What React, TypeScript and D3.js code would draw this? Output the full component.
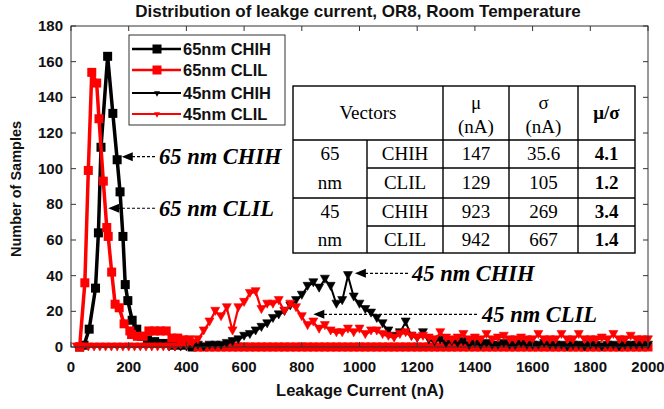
import React from 'react';
import * as d3 from 'd3';

const W = 664;
const H = 409;

const xTicks = [0, 200, 400, 600, 800, 1000, 1200, 1400, 1600, 1800, 2000];
const yTicks = [0, 20, 40, 60, 80, 100, 120, 140, 160, 180];

const seriesNames = ['65nm CHIH', '65nm CLIL', '45nm CHIH', '45nm CLIL'];

// 65 nm CHIH (black squares)
const x65chih = [30, 45, 63, 85, 95, 104, 127, 145, 160, 170, 180, 188, 197, 212, 228, 245, 265, 290, 320, 350, 380, 420];
const y65chih = [0, 1, 10, 33, 64, 112, 163, 131, 105, 87, 62, 35, 26, 15, 10, 6, 4, 3, 2, 1, 1, 0];

// 45 nm bins
const bins = [20, 40, 60, 80, 100, 120, 140, 160, 180, 200, 220, 240, 260, 280, 300, 320, 340, 360, 380, 400,
  420, 440, 460, 480, 500, 520, 540, 560, 580, 600, 620, 640, 660, 680, 700, 720, 740, 760, 780, 800,
  820, 840, 860, 880, 900, 920, 940, 960, 980, 1000, 1020, 1040, 1060, 1080, 1100, 1120, 1140, 1160, 1180, 1200,
  1220, 1240, 1260, 1280, 1300, 1320, 1340, 1360, 1380, 1400, 1420, 1440, 1460, 1480, 1500, 1520, 1540, 1560, 1580, 1600,
  1620, 1640, 1660, 1680, 1700, 1720, 1740, 1760, 1780, 1800, 1820, 1840, 1860, 1880, 1900, 1920, 1940, 1960, 1980, 2000];

// 65 nm CLIL (red squares)
const x65clilHead = [30, 48, 60, 72, 89, 97, 112, 124, 129, 141, 153, 167, 184, 204, 210, 230, 250, 270, 290, 310, 330, 350, 370, 390, 410, 430];
const y65clilHead = [0, 36, 99, 154, 148, 128, 93, 67, 62, 42, 24, 22, 13, 9, 7, 6, 6, 9, 9, 9, 9, 5, 5, 4, 4, 2];
const y65clilTail = [0, 0, 0, 0, 0, 0, 0, 0, 0, 0, 0, 0, 0, 0, 0, 0, 0, 0, 0, 0,
  0, 0, 0, 0, 0, 0, 0, 0, 0, 0, 0, 0, 0, 0, 0, 0, 0, 0, 0, 0,
  0, 0, 0, 0, 0, 0, 0, 0, 0, 0, 0, 0, 0, 0, 0, 0, 0, 0, 0, 0,
  0, 0, 0, 0, 0, 0, 0, 0, 0, 0, 0, 0, 0, 0, 0, 0, 0, 0, 0];

// 45 nm CHIH (black triangles), null = no sample
const chih45 = [null, null, null, null, null, null, null, null, null, null,
  null, null, null, null, null, null, 0, 0, 0, 0,
  0, 1, 0, 1, 1, 1, 2, 3, 4, 6,
  7, 9, 11, 13, 16, 18, 20, 23, 26, 29,
  34, 36, 33, 38, 34, 24, 26, 40, 28, 24,
  21, 19, 16, 13, 9, 6, 8, 14, 6, 5,
  8, 4, 3, 4, 2, 3, 2, 3, 1, 2,
  1, 2, 1, 1, 2, 1, 1, 2, 1, 1,
  1, 2, 1, 1, 1, 0, 1, 1, 0, 1,
  1, 0, 1, 1, 0, 1, 1, 1, 1, 1];

// 45 nm CLIL (red triangles)
const clil45 = [0, 0, 0, 0, 0, 0, 0, 0, 0, 0,
  0, 0, 0, 0, 0, 0, 0, 0, 1, 1,
  2, 4, 9, 14, 20, 17, 22, 9, 22, 25,
  30, 31, 21, 24, 24, 26, 20, 24, 22, 17,
  12, 14, 10, 12, 9, 8, 8, 10, 8, 10,
  7, 9, 9, 7, 6, 5, 7, 8, 6, 5,
  6, 5, 4, 8, 5, 4, 5, 7, 4, 5,
  4, 7, 4, 5, 6, 4, 4, 5, 4, 4,
  7, 4, 4, 4, 7, 4, 4, 7, 4, 4,
  4, 5, 4, 7, 4, 4, 6, 4, 4, 4];

// annotations
const annLabels = ['65 nm CHIH', '65 nm CLIL', '45 nm CHIH', '45 nm CLIL'];
const annTipX = [176, 129, 984, 840];
const annTipY = [106.7, 77.8, 41.3, 18.3];

// table
const tableHeader = ['Vectors', 'μ', 'σ', 'μ/σ'];
const tableNodes = ['65', '65', '45', '45'];
const tableVectors = ['CHIH', 'CLIL', 'CHIH', 'CLIL'];
const tableMu = ['147', '129', '923', '942'];
const tableSigma = ['35.6', '105', '269', '667'];
const tableRatio = ['4.1', '1.2', '3.4', '1.4'];

const SANS = '"Liberation Sans", Arial, Helvetica, sans-serif';
const SERIF = '"Liberation Serif", "Times New Roman", serif';
const RED = '#ff0000';

function triDown(s: number) {
  const h = s * 0.9;
  return `M${-s / 2},${-h / 2}L${s / 2},${-h / 2}L0,${h / 2}Z`;
}

export default function App() {
  const L = 71, R = 648, T = 26, B = 347;
  const x = d3.scaleLinear().domain([0, 2000]).range([L, R]);
  const y = d3.scaleLinear().domain([0, 180]).range([B, T]);
  const line = d3.line<[number, number]>().x(d => x(d[0])).y(d => y(d[1]));

  const s65chih: [number, number][] = x65chih.map((v, i) => [v, y65chih[i]]);
  const tailX = bins.slice(21);
  const s65clil: [number, number][] = x65clilHead.map((v, i) => [v, y65clilHead[i]] as [number, number])
    .concat(tailX.map((v, i) => [v, y65clilTail[i]] as [number, number]));
  const s45chih: [number, number][] = bins.map((v, i) => [v, chih45[i]] as [number, any]).filter(d => d[1] !== null);
  const s45clil: [number, number][] = bins.map((v, i) => [v, clil45[i]] as [number, number]);

  const sq = 9;
  const tri = 9;

  const squares = (data: [number, number][], color: string, key: string) =>
    data.map((d, i) => (
      <rect key={key + i} x={x(d[0]) - sq / 2} y={y(d[1]) - sq / 2} width={sq} height={sq} fill={color} />
    ));
  const tris = (data: [number, number][], color: string, key: string) =>
    data.map((d, i) => (
      <path key={key + i} d={triDown(tri)} transform={`translate(${x(d[0])},${y(d[1])})`} fill={color} stroke={color} strokeWidth={0.6} />
    ));

  // table layout
  const tL = 293, tR = 635;
  const colX = [293, 367, 443, 509, 578, 635];
  const rowY = [86, 140, 168, 198, 226, 253];
  const tableFont = 19;

  // legend layout
  const lgX = 129, lgY = 35, lgW = 156, lgH = 90;
  const lgRows = [49, 70, 93, 114];

  const annTextX = [159, 159, 412, 482];
  const annTailX = [155, 155, 408, 477];

  return (
    <svg width={W} height={H} style={{ position: 'absolute', left: 0, top: 0, background: '#fff' }}>
      <rect x={0} y={0} width={W} height={H} fill="#fff" />
      {/* title */}
      <text x={358} y={17} textAnchor="middle" fontFamily={SANS} fontWeight="bold" fontSize={17} fill="#111">
        Distribution of leakge current, OR8, Room Temperature
      </text>

      {/* series */}
      <path d={line(s65chih) || ''} fill="none" stroke="#000" strokeWidth={3.5} />
      {squares(s65chih, '#000', 'a')}
      <path d={line(s65clil) || ''} fill="none" stroke={RED} strokeWidth={3.5} />
      {squares(s65clil, RED, 'b')}
      <path d={line(s45chih) || ''} fill="none" stroke="#000" strokeWidth={2} />
      {tris(s45chih, '#000', 'c')}
      <path d={line(s45clil) || ''} fill="none" stroke={RED} strokeWidth={2.2} />
      {tris(s45clil, RED, 'd')}

      {/* axes frame */}
      <rect x={L} y={T} width={R - L} height={B - T} fill="none" stroke="#333" strokeWidth={1} />
      {xTicks.map(t => (
        <g key={'xt' + t}>
          <line x1={x(t)} x2={x(t)} y1={B} y2={B - 5} stroke="#333" />
          <line x1={x(t)} x2={x(t)} y1={T} y2={T + 5} stroke="#333" />
          <text x={x(t)} y={372} textAnchor="middle" fontFamily={SANS} fontWeight="bold" fontSize={15} fill="#111">{t}</text>
        </g>
      ))}
      {yTicks.map(t => (
        <g key={'yt' + t}>
          <line x1={L} x2={L + 5} y1={y(t)} y2={y(t)} stroke="#333" />
          <line x1={R} x2={R - 5} y1={y(t)} y2={y(t)} stroke="#333" />
          <text x={63} y={y(t) + 5} textAnchor="end" fontFamily={SANS} fontWeight="bold" fontSize={15} fill="#111">{t}</text>
        </g>
      ))}
      <text x={360} y={396} textAnchor="middle" fontFamily={SANS} fontWeight="bold" fontSize={16.5} fill="#111">Leakage Current (nA)</text>
      <text transform={`translate(21,189) rotate(-90)`} textAnchor="middle" fontFamily={SANS} fontWeight="bold" fontSize={14.5} fill="#111">Number of Samples</text>

      {/* legend */}
      <rect x={lgX} y={lgY} width={lgW} height={lgH} fill="#fff" stroke="#333" strokeWidth={1} />
      {seriesNames.map((n, i) => {
        const color = i % 2 === 0 ? '#000' : RED;
        const yy = lgRows[i];
        return (
          <g key={'lg' + i}>
            <line x1={lgX + 3} x2={lgX + 52} y1={yy} y2={yy} stroke={color} strokeWidth={i < 2 ? 2.5 : 2} />
            {i < 2 ? (
              <rect x={lgX + 28 - 4.5} y={yy - 4.5} width={9} height={9} fill={color} />
            ) : (
              <path d={triDown(6)} transform={`translate(${lgX + 28},${yy + 1})`} fill={color} />
            )}
            <text x={lgX + 54} y={yy + 6} fontFamily={SANS} fontWeight="bold" fontSize={16.5} fill="#111">{n}</text>
          </g>
        );
      })}

      {/* annotations */}
      {annLabels.map((lab, i) => {
        const tx = x(annTipX[i]);
        const ty = y(annTipY[i]);
        return (
          <g key={'an' + i}>
            <line x1={annTailX[i]} x2={tx + 9} y1={ty} y2={ty} stroke="#000" strokeWidth={1.2} strokeDasharray="3,2" />
            <path d={`M${tx},${ty}L${tx + 11},${ty - 4.5}L${tx + 11},${ty + 4.5}Z`} fill="#000" />
            <text x={annTextX[i]} y={ty + 7.5} fontFamily={SERIF} fontWeight="bold" fontStyle="italic" fontSize={22.5} fill="#000">{lab}</text>
          </g>
        );
      })}

      {/* table */}
      <g fontFamily={SERIF} fontSize={tableFont} fill="#000">
        <rect x={tL} y={rowY[0]} width={tR - tL} height={rowY[5] - rowY[0]} fill="#fff" stroke="#000" strokeWidth={1.4} />
        <line x1={tL} x2={tR} y1={rowY[1]} y2={rowY[1]} stroke="#000" strokeWidth={1.4} />
        <line x1={colX[1]} x2={tR} y1={rowY[2]} y2={rowY[2]} stroke="#000" strokeWidth={1.4} />
        <line x1={tL} x2={tR} y1={rowY[3]} y2={rowY[3]} stroke="#000" strokeWidth={1.4} />
        <line x1={colX[1]} x2={tR} y1={rowY[4]} y2={rowY[4]} stroke="#000" strokeWidth={1.4} />
        <line x1={colX[1]} x2={colX[1]} y1={rowY[1]} y2={rowY[5]} stroke="#000" strokeWidth={1.4} />
        {[2, 3, 4].map(c => (
          <line key={'c' + c} x1={colX[c]} x2={colX[c]} y1={rowY[0]} y2={rowY[5]} stroke="#000" strokeWidth={1.4} />
        ))}
        <text x={(colX[0] + colX[2]) / 2} y={(rowY[0] + rowY[1]) / 2 + 6} textAnchor="middle">{tableHeader[0]}</text>
        <text x={(colX[2] + colX[3]) / 2} y={rowY[0] + 23} textAnchor="middle">{tableHeader[1]}</text>
        <text x={(colX[2] + colX[3]) / 2} y={rowY[0] + 47} textAnchor="middle">(nA)</text>
        <text x={(colX[3] + colX[4]) / 2} y={rowY[0] + 23} textAnchor="middle">{tableHeader[2]}</text>
        <text x={(colX[3] + colX[4]) / 2} y={rowY[0] + 47} textAnchor="middle">(nA)</text>
        <text x={(colX[4] + colX[5]) / 2} y={(rowY[0] + rowY[1]) / 2 + 6} textAnchor="middle" fontWeight="bold">{tableHeader[3]}</text>
        {tableVectors.map((v, i) => {
          const cy = (rowY[i + 1] + rowY[i + 2]) / 2 + 6;
          return (
            <g key={'r' + i}>
              <text x={(colX[0] + colX[1]) / 2} y={cy} textAnchor="middle">{i % 2 === 0 ? tableNodes[i] : 'nm'}</text>
              <text x={(colX[1] + colX[2]) / 2} y={cy} textAnchor="middle">{v}</text>
              <text x={(colX[2] + colX[3]) / 2} y={cy} textAnchor="middle">{tableMu[i]}</text>
              <text x={(colX[3] + colX[4]) / 2} y={cy} textAnchor="middle">{tableSigma[i]}</text>
              <text x={(colX[4] + colX[5]) / 2} y={cy} textAnchor="middle" fontWeight="bold">{tableRatio[i]}</text>
            </g>
          );
        })}
      </g>
    </svg>
  );
}
